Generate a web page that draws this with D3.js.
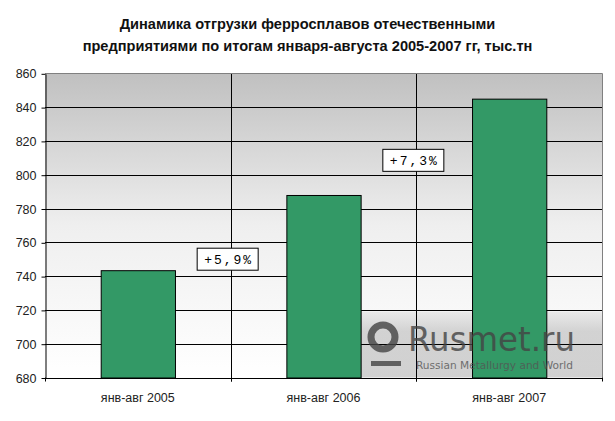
<!DOCTYPE html>
<html><head><meta charset="utf-8">
<script src="https://cdn.jsdelivr.net/npm/d3@7"></script>
<style>body{margin:0;background:#fff}svg{display:block}</style>
</head><body><div id="c"></div>
<script>
const titleLines = ["Динамика отгрузки ферросплавов отечественными", "предприятиями по итогам января-августа 2005-2007 гг, тыс.тн"];
const categories = ["янв-авг 2005", "янв-авг 2006", "янв-авг 2007"];
const values = [743.5, 788, 845];
const yTicks = [680, 700, 720, 740, 760, 780, 800, 820, 840, 860];
const growthLabels = ["+5,9%", "+7,3%"];
const growthLabelLevels = [750, 808.5];

const W = 615, H = 421;
const m = {l: 45, r: 13, t: 73.3, b: 43.5};
const svg = d3.select("#c").append("svg").attr("width", W).attr("height", H);
const defs = svg.append("defs");
const g1 = defs.append("linearGradient").attr("id", "bg").attr("x1", 0).attr("y1", 0).attr("x2", 0).attr("y2", 1);
g1.append("stop").attr("offset", 0).attr("stop-color", "#c0c0c0");
g1.append("stop").attr("offset", 0.5).attr("stop-color", "#efefef");
g1.append("stop").attr("offset", 1).attr("stop-color", "#ffffff");
const g2 = defs.append("linearGradient").attr("id", "wmbg").attr("x1", 0).attr("y1", 0).attr("x2", 0).attr("y2", 1);
g2.append("stop").attr("offset", 0).attr("stop-color", "#bdbdbd").attr("stop-opacity", 0.25);
g2.append("stop").attr("offset", 0.3).attr("stop-color", "#bdbdbd").attr("stop-opacity", 0.65);
g2.append("stop").attr("offset", 1).attr("stop-color", "#bdbdbd").attr("stop-opacity", 0.7);

const x = d3.scaleBand().domain(categories).range([m.l, W - m.r]).paddingInner(0.6).paddingOuter(0.3);
const y = d3.scaleLinear().domain([680, 860]).range([H - m.b, m.t]);
const step = x.step();
const x0 = m.l, x1 = W - m.r, yb = y(680), yt = y(860);

// title
svg.append("g").selectAll("text").data(titleLines).join("text")
  .attr("x", W / 2).attr("y", (d, i) => 29 + i * 21.5)
  .attr("text-anchor", "middle").attr("font-family", "Liberation Sans, Arial, sans-serif")
  .attr("font-weight", "bold").attr("font-size", 14.6).attr("fill", "#111").text(d => d);

// background
svg.append("rect").attr("x", x0).attr("y", yt).attr("width", x1 - x0).attr("height", yb - yt).attr("fill", "url(#bg)");

// watermark box
svg.append("rect").attr("x", x(categories[1]) + x.bandwidth()).attr("y", y(719)).attr("width", x1 - x(categories[1]) - x.bandwidth())
  .attr("height", yb - y(719)).attr("fill", "url(#wmbg)");

// horizontal gridlines
svg.append("g").selectAll("line").data(yTicks.slice(1, -1)).join("line")
  .attr("x1", x0).attr("x2", x1).attr("y1", d => Math.round(y(d)) + 0.5).attr("y2", d => Math.round(y(d)) + 0.5)
  .attr("stroke", "#000").attr("stroke-width", 1);
// vertical gridlines (category boundaries)
const bounds = categories.map((c, i) => x0 + step * i);
svg.append("g").selectAll("line").data(bounds.slice(1)).join("line")
  .attr("x1", d => Math.round(d) + 0.5).attr("x2", d => Math.round(d) + 0.5).attr("y1", yt).attr("y2", yb + 4)
  .attr("stroke", "#000");
// border top/right
svg.append("path").attr("d", `M${x0},${Math.round(yt) + 0.5}H${Math.round(x1) + 0.5}V${yb}`).attr("fill", "none").attr("stroke", "#808080");

// bars
svg.append("g").selectAll("rect").data(values).join("rect")
  .attr("x", (d, i) => x(categories[i]) + 0.5).attr("y", d => y(d) + 0.5)
  .attr("width", x.bandwidth()).attr("height", d => yb - y(d))
  .attr("fill", "#339966").attr("stroke", "#000").attr("stroke-width", 1);

// y axis
const ya = svg.append("g").attr("transform", `translate(${x0 + 0.5},0.5)`)
  .call(d3.axisLeft(y).tickValues(yTicks).tickSize(4).tickSizeOuter(0).tickPadding(5));
ya.select(".domain").attr("stroke", "#000");
ya.selectAll(".tick line").attr("stroke", "#000");
ya.selectAll("text").attr("font-family", "Liberation Sans, Arial, sans-serif").attr("font-size", 12.5).attr("fill", "#222");

// x axis
svg.append("line").attr("x1", x0).attr("x2", Math.round(x1) + 1).attr("y1", Math.round(yb) + 0.5).attr("y2", Math.round(yb) + 0.5).attr("stroke", "#000");
svg.append("g").selectAll("line").data(bounds.concat([x1])).join("line")
  .attr("x1", d => Math.round(d) + 0.5).attr("x2", d => Math.round(d) + 0.5).attr("y1", yb).attr("y2", yb + 4).attr("stroke", "#000");
svg.append("g").selectAll("text").data(categories).join("text")
  .attr("x", d => x(d) + x.bandwidth() / 2).attr("y", yb + 24)
  .attr("text-anchor", "middle").attr("font-family", "Liberation Sans, Arial, sans-serif")
  .attr("font-size", 12.5).attr("fill", "#222").text(d => d);

// growth labels
const lg = svg.append("g").selectAll("g").data(growthLabels).join("g")
  .attr("transform", (d, i) => `translate(${bounds[i + 1] - 3},${y(growthLabelLevels[i])})`);
lg.append("rect").attr("x", -30.5).attr("y", -11).attr("width", 61).attr("height", 22)
  .attr("fill", "#fff").attr("stroke", "#000");
lg.append("text").attr("x", 1).attr("y", 4.5).attr("text-anchor", "middle")
  .attr("font-family", "Liberation Mono, Courier New, monospace").attr("font-size", 13)
  .attr("letter-spacing", 2).attr("fill", "#000").text(d => d);

// watermark
const wm = svg.append("g").attr("opacity", 0.8);
wm.append("circle").attr("cx", 383).attr("cy", 337).attr("r", 12).attr("fill", "none").attr("stroke", "#444").attr("stroke-width", 7);
wm.append("rect").attr("x", 371).attr("y", 361).attr("width", 30).attr("height", 5).attr("fill", "#444");
wm.append("text").attr("x", 408).attr("y", 351).attr("font-family", "DejaVu Sans, sans-serif").attr("font-size", 34)
  .attr("textLength", 167).attr("lengthAdjust", "spacingAndGlyphs").attr("fill", "#444").text("Rusmet.ru");
wm.append("text").attr("x", 416).attr("y", 369).attr("font-family", "DejaVu Sans, sans-serif").attr("font-size", 10)
  .attr("textLength", 157).attr("lengthAdjust", "spacingAndGlyphs").attr("fill", "#555").text("Russian Metallurgy and World");
</script></body></html>
